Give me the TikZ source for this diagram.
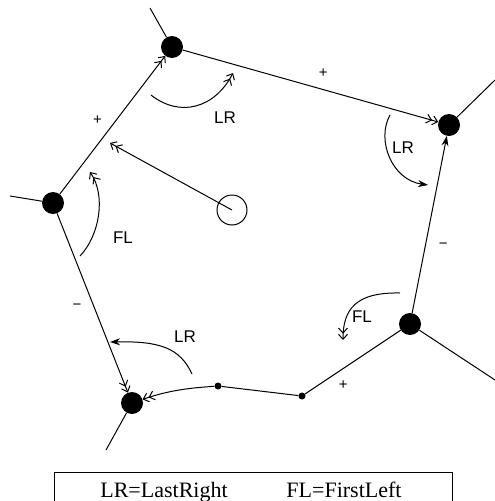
\documentclass[tikz,border=0pt]{standalone}
\usepackage{fontspec}
\setmainfont{Liberation Serif}
\newfontfamily\lblfont{Liberation Sans}
\usetikzlibrary{arrows.meta}

\tikzset{
  vtx/.style={circle,fill=black,inner sep=0pt,minimum size=22pt},
  pt/.style={circle,fill=black,inner sep=0pt,minimum size=7pt},
  edge/.style={line width=1pt},
  dblarrow/.style={edge,-{Straight Barb[length=5pt,width=9pt]Straight Barb[length=5pt,width=9pt]}},
  solarrow/.style={edge,-{Stealth[length=10pt,width=7pt]}},
  lbl/.style={font=\lblfont\fontsize{17}{19}\selectfont,inner sep=0pt},
  sgn/.style={font=\lblfont\fontsize{15}{16}\selectfont,inner sep=0pt},
}

\begin{document}
\begin{tikzpicture}[x=1pt,y=-1pt]
\useasboundingbox (0,0) rectangle (495,501);
\clip (0,0) rectangle (495,501);

% Vertices
\node[vtx] (A) at (172,47) {};
\node[vtx] (B) at (449,125) {};
\node[vtx] (C) at (53,203) {};
\node[vtx] (D) at (410,324) {};
\node[vtx] (E) at (132,403) {};
\node[pt] (p1) at (218,386) {};
\node[pt] (p2) at (302,396) {};
\node[circle,draw,line width=1pt,minimum size=30pt,inner sep=0pt] (src) at (232,210) {};

% Dangling edges
\coordinate (a0) at (150,8);
\coordinate (b0) at (495,80);
\coordinate (c0) at (10,196);
\coordinate (d0) at (495,380);
\coordinate (e0) at (106,450);
\draw[edge] (a0) -- (A);
\draw[edge] (B) -- (b0);
\draw[edge] (c0) -- (C);
\draw[edge] (D) -- (d0);
\draw[edge] (E) -- (e0);

% Face boundary
\draw[dblarrow] (C) -- (A) node[sgn,pos=0.46,above left=6pt] {+};
\draw[dblarrow] (A) -- (B) node[sgn,pos=0.55,above=12pt] {+};
\draw[solarrow] (D) -- (B) node[sgn,pos=0.38,right=13pt] {−};
\draw[dblarrow] (C) -- (E) node[sgn,pos=0.52,left=12pt] {−};
\draw[edge] (D) -- (p2) node[sgn,pos=0.6,below=12pt] {+};
\draw[edge] (p2) -- (p1);
\draw[dblarrow] (p1) .. controls (190,388) and (170,390) .. (E);

% Query point
\coordinate (q) at (110,143);
\draw[dblarrow] (src.center) -- (q);

% Turning arrows
\coordinate (r1s) at (151,95);  \coordinate (r1e) at (233,73);
\coordinate (r2s) at (390,115); \coordinate (r2e) at (428,185);
\coordinate (f1s) at (80,256);  \coordinate (f1e) at (90,172);
\coordinate (f2s) at (400,293); \coordinate (f2e) at (343,340);
\coordinate (r3s) at (192,374); \coordinate (r3e) at (110,342);
\draw[dblarrow] (r1s) .. controls (180,118) and (215,108) .. (r1e);
\draw[solarrow] (r2s) .. controls (376,140) and (392,180) .. (r2e);
\draw[dblarrow] (f1s) .. controls (100,235) and (106,195) .. (f1e);
\draw[dblarrow] (f2s) .. controls (355,292) and (343,310) .. (f2e);
\draw[solarrow] (r3s) .. controls (180,348) and (160,341) .. (r3e);
\node[lbl] (lr1) at (225,118) {LR};
\node[lbl] (lr2) at (403,148) {LR};
\node[lbl] (fl1) at (123,238) {FL};
\node[lbl] (fl2) at (362,317) {FL};
\node[lbl] (lr3) at (185,337) {LR};

% Legend
\draw[line width=1pt] (54,472) rectangle (452,520);
\node[font=\fontsize{22}{24}\selectfont,inner sep=0pt,anchor=base] (key1) at (164,497) {LR=LastRight};
\node[font=\fontsize{22}{24}\selectfont,inner sep=0pt,anchor=base] (key2) at (344,497) {FL=FirstLeft};
\end{tikzpicture}
\end{document}
